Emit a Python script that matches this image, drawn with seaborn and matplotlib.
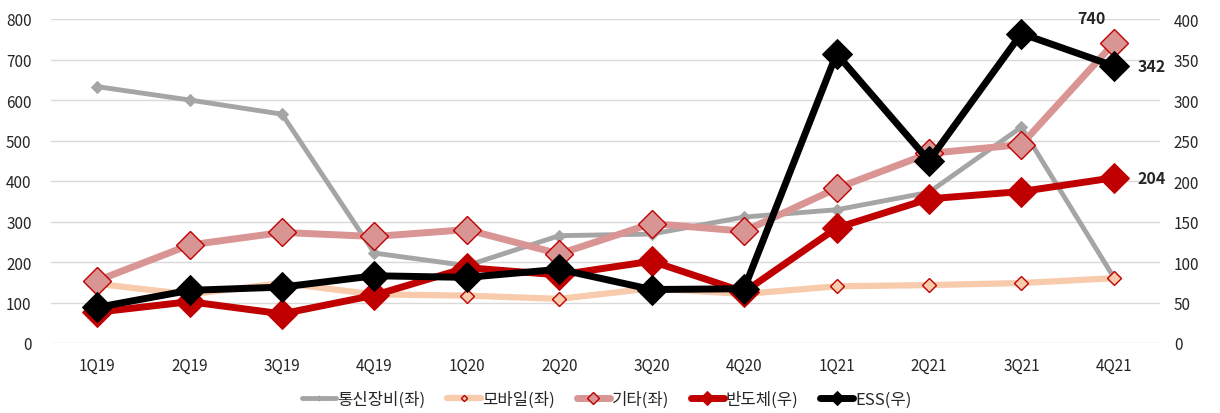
import numpy as np
import pandas as pd
import matplotlib
matplotlib.use("Agg")
import matplotlib.pyplot as plt
import seaborn as sns

quarters = ["1Q19", "2Q19", "3Q19", "4Q19", "1Q20", "2Q20", "3Q20", "4Q20", "1Q21", "2Q21", "3Q21", "4Q21"]
telecom = [633, 600, 565, 222, 191, 265, 269, 311, 329, 372, 533, 162]   # 통신장비(좌)
mobile = [146, 120, 148, 120, 117, 109, 135, 121, 140, 143, 148, 160]    # 모바일(좌)
other = [154, 242, 273, 263, 280, 220, 295, 276, 382, 468, 490, 740]     # 기타(좌)
semi = [38, 51, 36, 59, 93, 84, 101, 63, 142, 178, 187, 204]             # 반도체(우)
ess = [44, 65, 69, 83, 81, 91, 66, 67, 357, 225, 382, 342]               # ESS(우)

sns.set_theme(style="white")
plt.rcParams['font.family'] = ['Noto Sans CJK KR', 'DejaVu Sans']

pos = np.arange(len(quarters))
df = pd.DataFrame({"pos": pos, "telecom": telecom, "mobile": mobile,
                   "other": other, "semi": semi, "ess": ess})

fig = plt.figure(figsize=(12.2, 4.14), dpi=100)
ax = fig.add_axes([51/1220, 1-344/414, (1160-51)/1220, 324/414])
ax2 = ax.twinx()

red = "#C00000"
sns.lineplot(data=df, x="pos", y="telecom", ax=ax, color="#A5A5A5", lw=3.5,
             marker="D", ms=6, mec="#A5A5A5", label="통신장비(좌)", zorder=2)
sns.lineplot(data=df, x="pos", y="mobile", ax=ax, color="#F8CBAD", lw=4.5,
             marker="D", ms=7, mfc="#F8CBAD", mec=red, mew=1, label="모바일(좌)", zorder=3)
sns.lineplot(data=df, x="pos", y="other", ax=ax, color="#D99594", lw=5,
             marker="D", ms=14, mfc="#D99594", mec=red, mew=1, label="기타(좌)", zorder=4)
sns.lineplot(data=df, x="pos", y="semi", ax=ax2, color=red, lw=5,
             marker="D", ms=15, mec=red, label="반도체(우)", zorder=5)
sns.lineplot(data=df, x="pos", y="ess", ax=ax2, color="black", lw=5,
             marker="D", ms=15, mec="black", label="ESS(우)", zorder=6)

ax.set_ylim(0, 800)
ax2.set_ylim(0, 400)
ax.set_xlim(-0.5, len(quarters) - 0.5)
ax.set_yticks(np.arange(0, 801, 100))
ax2.set_yticks(np.arange(0, 401, 50))
ax.set_xticks(pos)
ax.set_xticklabels(quarters)
ax.set_xlabel("")
ax.set_ylabel("")
ax2.set_ylabel("")
ax.grid(axis="y", color="#D9D9D9", lw=1)
ax.set_axisbelow(True)
for a in (ax, ax2):
    for s in a.spines.values():
        s.set_visible(False)
    a.tick_params(length=0, labelsize=11, colors="#262626")
    a.grid(False, axis="x")
ax2.grid(False)
ax.tick_params(axis="y", pad=14)
ax.tick_params(axis="x", pad=10)
ax2.tick_params(axis="y", pad=10)

# data labels
ax.annotate(str(other[-1]), (pos[-1], other[-1]), xytext=(-16, 18), textcoords="offset points",
            ha="center", va="center", fontsize=11.5, fontweight="bold", annotation_clip=False)
ax2.annotate(str(ess[-1]), (pos[-1], ess[-1]), xytext=(27, 0), textcoords="offset points",
             ha="center", va="center", fontsize=11.5, fontweight="bold")
ax2.annotate(str(semi[-1]), (pos[-1], semi[-1]), xytext=(27, 0), textcoords="offset points",
             ha="center", va="center", fontsize=11.5, fontweight="bold")

h1, l1 = ax.get_legend_handles_labels()
h2, l2 = ax2.get_legend_handles_labels()
for a in (ax, ax2):
    if a.get_legend():
        a.get_legend().remove()
fig.legend(h1 + h2, l1 + l2, loc="center", bbox_to_anchor=(607/1220, 1-400/414), ncol=5,
           frameon=False, fontsize=12, markerscale=0.45, handlelength=2.0, columnspacing=1.3,
           handletextpad=0.1)

fig.savefig("out.png", dpi=100)
